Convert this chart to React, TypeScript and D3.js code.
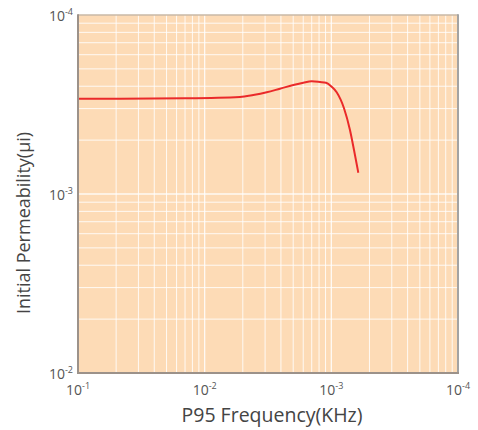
import React from 'react';
import * as d3 from 'd3';

const freqKHz = [10, 21.5, 69.9, 190, 242, 309, 393, 501, 601, 700, 814, 908, 1006, 1102, 1259, 1403, 1510, 1633];
const permeability = [3407, 3407, 3425, 3483, 3573, 3701, 3876, 4063, 4185, 4262, 4224, 4185, 3976, 3701, 3012, 2278, 1761, 1315];
const xTickValues = [10, 100, 1000, 10000];
const xTickExponents = ['-1', '-2', '-3', '-4'];
const yTickValues = [100, 1000, 10000];
const yTickExponents = ['-2', '-3', '-4'];
const xTitle = 'P95 Frequency(KHz)';
const yTitle = 'Initial Permeability(μi)';

const W = 478;
const H = 430;
const L = 78, R = 458, T = 15, B = 373;
const FONT = "'Open Sans', 'DejaVu Sans', sans-serif";

export default function App() {
  const x = d3.scaleLog().domain([10, 10000]).range([L, R]);
  const y = d3.scaleLog().domain([100, 10000]).range([B, T]);

  const minorX: number[] = [];
  for (let d = 10; d < 10000; d *= 10) for (let k = 2; k <= 9; k++) minorX.push(d * k);
  const minorY: number[] = [];
  for (let d = 100; d < 10000; d *= 10) for (let k = 2; k <= 9; k++) minorY.push(d * k);

  const line = d3.line<number>()
    .x((_, i) => x(freqKHz[i]))
    .y((v) => y(v))
    .curve(d3.curveMonotoneX);

  return (
    <svg width={W} height={H} style={{ position: 'absolute', left: 0, top: 0, background: '#fff' }}>
      <rect x={L} y={T} width={R - L} height={B - T} fill="#fddbb6" />
      <g stroke="#ffffff" strokeOpacity={0.85}>
        {minorX.map((v) => (
          <line key={'mx' + v} x1={x(v)} x2={x(v)} y1={T} y2={B} strokeWidth={1} />
        ))}
        {xTickValues.slice(1, -1).map((v) => (
          <line key={'Mx' + v} x1={x(v)} x2={x(v)} y1={T} y2={B} strokeWidth={1.3} />
        ))}
        {minorY.map((v) => (
          <line key={'my' + v} x1={L} x2={R} y1={y(v)} y2={y(v)} strokeWidth={1} />
        ))}
        {yTickValues.slice(1, -1).map((v) => (
          <line key={'My' + v} x1={L} x2={R} y1={y(v)} y2={y(v)} strokeWidth={1.3} />
        ))}
      </g>
      <path d={line(permeability) || ''} fill="none" stroke="#ea2a2a" strokeWidth={2} />
      <line x1={L} x2={R} y1={T} y2={T} stroke="#c9b8a6" strokeWidth={1.5} />
      <line x1={R} x2={R} y1={T - 0.75} y2={B} stroke="#a3a3a3" strokeWidth={2} />
      <line x1={L} x2={L} y1={T - 0.75} y2={B + 1} stroke="#9c928a" strokeWidth={2} />
      <line x1={L} x2={R + 1} y1={B} y2={B} stroke="#9c928a" strokeWidth={2} />
      <g fontFamily={FONT} fill="#555" fontSize={14}>
        {xTickValues.map((v, i) => (
          <text key={'xt' + v} x={x(v)} y={395} textAnchor="middle">
            10<tspan fontSize={9} dy={-6}>{xTickExponents[i]}</tspan>
          </text>
        ))}
        {yTickValues.map((v, i) => (
          <text key={'yt' + v} x={73} y={y(v) + 6} textAnchor="end">
            10<tspan fontSize={9} dy={-6}>{yTickExponents[i]}</tspan>
          </text>
        ))}
      </g>
      <text x={272} y={422} textAnchor="middle" fontFamily={FONT} fontSize={19.5} fill="#444">
        {xTitle}
      </text>
      <text
        transform={`translate(30,223) rotate(-90)`}
        textAnchor="middle"
        fontFamily={FONT}
        fontSize={18}
        fill="#444"
      >
        {yTitle}
      </text>
    </svg>
  );
}
